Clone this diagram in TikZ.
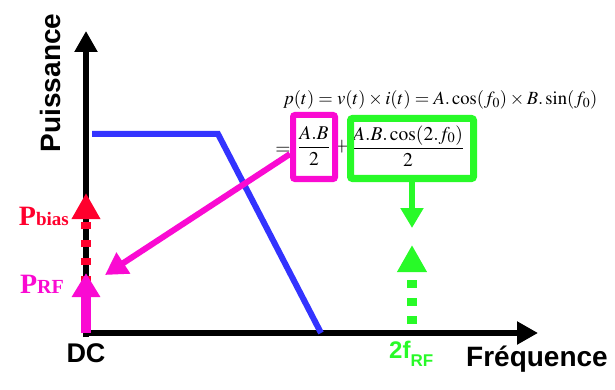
\documentclass[tikz,border=0pt]{standalone}
\usepackage{amsmath}
\usepackage{mathptmx}
\usepackage[no-math]{fontspec}
\setmainfont{Liberation Serif}
\setsansfont{Liberation Sans}
\usetikzlibrary{arrows.meta, positioning}

\definecolor{bandblue}{RGB}{51,51,255}
\definecolor{rfmag}{RGB}{250,10,210}
\definecolor{biasred}{RGB}{255,0,45}
\definecolor{harmgreen}{RGB}{40,250,40}

\begin{document}
\begin{tikzpicture}[
    x=1pt, y=-1pt,
    % Axes and spectrum line
    axis/.style={line width=6.5pt, -{Triangle[length=21pt, width=22pt]}},
    bandline/.style={draw=bandblue, line width=6pt},
    axislabel/.style={font={\fontsize{28}{28}\selectfont\sffamily\bfseries}, inner sep=0pt},
    % Spectral lines
    rfline/.style={draw=rfmag, line width=10pt, -{Triangle[length=24pt, width=27pt]}},
    biasline/.style={draw=biasred, line width=10pt, dash pattern=on 7pt off 11pt, dash phase=4pt,
        -{Triangle[length=26pt, width=27pt]}},
    harmline/.style={draw=harmgreen, line width=10pt, dash pattern=on 8pt off 10pt, dash phase=9pt,
        -{Triangle[length=27pt, width=28pt]}},
    % Formula terms
    formula/.style={font={\fontsize{19.5}{19.5}\selectfont}, inner sep=0pt},
    termbox/.style={draw, line width=6pt, rounded corners=2pt, fill=none},
    pointer/.style={line width=6pt, -{Triangle[length=22pt, width=24pt]}}
]
    \useasboundingbox (0,0) rectangle (615,390);

    % ==========================================
    % 1. AXES
    % ==========================================
    \coordinate (origin) at (86,333);
    \coordinate (ytop) at (86,31);
    \coordinate (xend) at (538,333);
    \draw[axis] (86,337) -- (ytop);
    \draw[axis] (83,333) -- (xend);

    \node[axislabel, rotate=90] (ylab) at (50,83) {Puissance};
    \node[axislabel, font={\fontsize{27}{27}\selectfont\sffamily\bfseries}, anchor=base] (dc) at (86,362) {DC};
    \node[axislabel, anchor=base] (xlab) at (537,366) {Fréquence};

    % Spectrum of the signal
    \draw[bandline] (92,134) -- (218,134) -- (321,333);

    % ==========================================
    % 2. SPECTRAL LINES
    % ==========================================
    \coordinate (biastip) at (86,193);
    \coordinate (rftip) at (86,273);
    \coordinate (hfbase) at (412,333);
    \coordinate (hftip) at (412,245);
    \draw[biasline] (origin) -- (biastip);
    \draw[rfline] (origin) -- (rftip);
    \draw[harmline] (hfbase) -- (hftip);

    \node[anchor=base east, inner sep=0pt, text=biasred, font=\bfseries] (pbias) at (69,225)
        {{\fontsize{28}{28}\selectfont P}{\fontsize{19}{19}\selectfont bias}};
    \node[anchor=base east, inner sep=0pt, text=rfmag, font=\bfseries] (prf) at (64,293)
        {{\fontsize{28}{28}\selectfont P}{\fontsize{20}{20}\selectfont RF}};
    \node[anchor=base west, inner sep=0pt, text=harmgreen, font=\sffamily\bfseries] (f2) at (389,358)
        {{\fontsize{24}{24}\selectfont 2f}\raisebox{-8pt}{\fontsize{17}{17}\selectfont RF}};

    % ==========================================
    % 3. POWER FORMULA
    % ==========================================
    \node[formula, font={\fontsize{18.6}{18.6}\selectfont}, anchor=base west] (pt) at (283,105)
        {$p(t)=v(t)\times i(t)=A.\cos(f_0)\times B.\sin(f_0)$};
    \node[formula] (eq) at (283,151) {$=$};
    \node[formula] (dcterm) at (314,146) {$\dfrac{A.B}{2}$};
    \node[formula] (plus) at (342,147) {$+$};
    \node[formula] (hfterm) at (408,146) {$\dfrac{A.B.\cos(2.f_0)}{2}$};

    \node[termbox, draw=rfmag, minimum width=42pt, minimum height=64pt] (dcbox) at (314,147) {};
    \node[termbox, draw=harmgreen, line width=7pt, minimum width=123pt, minimum height=60pt] (hfbox) at (412,148.5) {};

    % Pointers from the terms to the lines
    \coordinate (rfpoint) at (105,275);
    \coordinate (hfpoint) at (412,228);
    \draw[pointer, rfmag] ([yshift=-7pt]dcbox.west) -- (rfpoint);
    \draw[pointer, harmgreen, -{Triangle[length=20pt, width=22pt]}] (hfbox.south) -- (hfpoint);

\end{tikzpicture}
\end{document}
